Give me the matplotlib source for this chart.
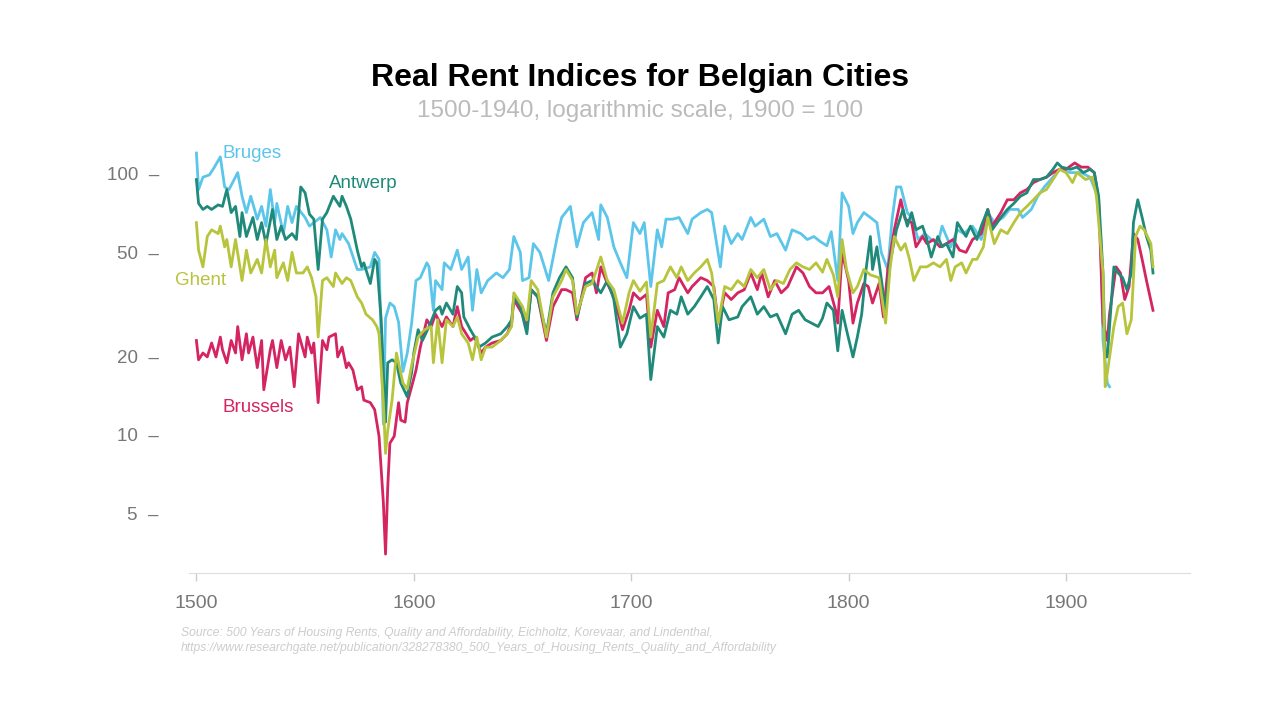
import matplotlib
matplotlib.use("Agg")
import matplotlib.pyplot as plt
from matplotlib.ticker import NullLocator, FixedLocator

plt.rcParams['font.family'] = ['Liberation Sans', 'DejaVu Sans']

# ---- data (index, 1900 = 100) ----
bruges_years = [1500, 1501, 1503, 1506, 1508, 1511, 1513, 1515, 1519, 1521, 1523, 1525, 1528, 1530,
                1532, 1534, 1536, 1537, 1540, 1542, 1544, 1546, 1550, 1552, 1557, 1560, 1562, 1564,
                1566, 1567, 1570, 1574, 1576, 1580, 1582, 1584, 1586, 1587, 1589, 1591, 1593, 1595,
                1597, 1599, 1601, 1603, 1606, 1607, 1609, 1610, 1613, 1614, 1617, 1620, 1622, 1625,
                1627, 1629, 1631, 1634, 1638, 1641, 1644, 1646, 1649, 1650, 1653, 1655, 1658, 1662,
                1666, 1668, 1672, 1675, 1678, 1682, 1685, 1686, 1689, 1692, 1695, 1698, 1701, 1704,
                1706, 1709, 1712, 1714, 1716, 1719, 1722, 1726, 1728, 1732, 1735, 1737, 1741, 1743,
                1746, 1749, 1751, 1755, 1757, 1761, 1764, 1767, 1771, 1774, 1778, 1781, 1784, 1787,
                1790, 1792, 1795, 1797, 1800, 1802, 1804, 1807, 1810, 1813, 1815, 1818, 1820, 1822,
                1824, 1827, 1829, 1832, 1835, 1838, 1841, 1843, 1847, 1850, 1853, 1857, 1861, 1864,
                1867, 1871, 1874, 1878, 1880, 1884, 1887, 1890, 1894, 1897, 1902, 1907, 1911, 1914,
                1916, 1917, 1919, 1920]
bruges = [120, 87, 97, 99, 105, 116, 89, 87, 101, 82, 71, 82, 67, 75,
          63, 87, 65, 77, 59, 75, 65, 75, 68, 63, 68, 61, 48, 61,
          56, 59, 54, 43, 43, 44, 50, 47, 11, 28, 32, 31, 27, 17.5,
          20.6, 26.8, 39, 40, 45.6, 44, 30, 39, 36, 45.6, 43, 51, 43, 48,
          30, 43, 35, 39, 41.7, 40, 43, 57.5, 50, 39, 40, 54, 50, 39,
          57.5, 68, 75, 52.5, 65, 71, 56, 76, 68, 52.5, 45.6, 40, 65, 59,
          65, 37, 61, 52.5, 67, 67, 68, 59, 67, 71, 73, 71, 44, 63,
          54, 59, 56, 68, 63, 67, 57.5, 59, 51, 61, 59, 56, 57.5, 55,
          53, 60, 39, 84.5, 75, 59, 65, 71, 68, 65, 50, 43, 67, 89,
          89, 71, 68, 56, 59, 56, 54, 63, 52.5, 61, 59, 63, 56, 71,
          65, 68, 73, 73, 68, 73, 82, 89, 97, 104, 101, 101, 97, 84.5,
          56, 23, 15.8, 15.3]

antwerp_years = [1500, 1501, 1503, 1505, 1507, 1510, 1512, 1514, 1516, 1518, 1520, 1521, 1523, 1526,
                 1528, 1530, 1532, 1535, 1537, 1539, 1541, 1544, 1546, 1548, 1550, 1552, 1554, 1556,
                 1558, 1560, 1563, 1566, 1567, 1569, 1571, 1574, 1576, 1577, 1580, 1582, 1583, 1585,
                 1587, 1588, 1590, 1592, 1594, 1597, 1598, 1599, 1600, 1602, 1604, 1607, 1610, 1612,
                 1613, 1615, 1618, 1620, 1622, 1623, 1626, 1628, 1630, 1633, 1636, 1640, 1643, 1645,
                 1646, 1649, 1652, 1654, 1657, 1661, 1664, 1667, 1670, 1673, 1675, 1679, 1682, 1686,
                 1689, 1692, 1695, 1698, 1701, 1704, 1707, 1709, 1712, 1715, 1718, 1721, 1723, 1726,
                 1729, 1732, 1735, 1738, 1740, 1742, 1745, 1749, 1751, 1755, 1758, 1761, 1764, 1767,
                 1771, 1774, 1777, 1780, 1783, 1786, 1788, 1790, 1793, 1795, 1797, 1799, 1802, 1804,
                 1806, 1808, 1810, 1811, 1813, 1814, 1817, 1819, 1822, 1825, 1827, 1829, 1831, 1834,
                 1836, 1838, 1841, 1843, 1845, 1848, 1850, 1854, 1856, 1859, 1861, 1864, 1866, 1870,
                 1873, 1876, 1879, 1882, 1885, 1888, 1891, 1894, 1896, 1898, 1902, 1905, 1908, 1911,
                 1913, 1915, 1917, 1918, 1919, 1922, 1924, 1926, 1928, 1930, 1931, 1933, 1935, 1937,
                 1939, 1940]
antwerp = [95, 77, 73, 75, 73, 76, 75, 87, 71, 75, 57.5, 71, 57.5, 68,
           56, 65, 54, 73, 56, 63, 56, 59, 56, 89, 84.5, 70, 67, 43,
           67, 71, 82, 75, 82, 75, 67, 51, 44, 45.6, 38, 47, 45.6, 27.6,
           11.2, 18.9, 19.4, 18.9, 15.8, 14, 15.8, 17.3, 20.6, 25.3, 23, 26, 30, 31,
           29, 32, 29, 37, 35, 28.3, 25.3, 23.7, 21.7, 22.5, 23.7, 24.4, 26, 27.6,
           33.8, 31, 24.4, 36, 33.8, 24.4, 35, 40, 44, 40, 28.3, 38, 39, 35,
           39, 33, 21.7, 24.4, 31, 28, 29, 16.3, 26, 23.7, 30, 29, 33.8, 29,
           31, 33.8, 37, 33, 22.5, 31, 27.6, 28.3, 31, 33.8, 29, 31, 28.3, 29,
           24.4, 29, 30, 27.6, 26.8, 26, 28, 32, 30, 21, 30, 25.3, 19.9, 23.7,
           29, 43, 57.5, 43, 52.5, 45.6, 30, 45.6, 61, 73, 63, 71, 61, 63,
           56, 48, 57.5, 52.5, 54, 48, 65, 57.5, 63, 56, 63, 73, 61, 68,
           73, 77, 82, 84.5, 95, 95, 97, 104, 110, 106, 104, 106, 101, 104,
           101, 82, 41.7, 19.9, 19.9, 44, 41.7, 40, 36, 41.7, 65, 79.5, 68, 57.5,
           51, 41.7]

ghent_years = [1500, 1501, 1503, 1505, 1507, 1510, 1511, 1513, 1514, 1516, 1518, 1520, 1521, 1523,
               1525, 1528, 1530, 1532, 1534, 1536, 1537, 1540, 1542, 1544, 1546, 1549, 1551, 1553,
               1555, 1556, 1558, 1560, 1563, 1564, 1567, 1569, 1571, 1574, 1576, 1578, 1581, 1583,
               1584, 1586, 1587, 1588, 1590, 1592, 1593, 1595, 1597, 1599, 1602, 1605, 1608, 1609,
               1611, 1613, 1615, 1618, 1620, 1622, 1625, 1627, 1629, 1631, 1633, 1636, 1640, 1643,
               1645, 1646, 1650, 1652, 1654, 1657, 1661, 1664, 1668, 1670, 1673, 1675, 1679, 1682,
               1686, 1689, 1692, 1696, 1699, 1701, 1704, 1707, 1709, 1712, 1715, 1718, 1721, 1723,
               1726, 1729, 1732, 1735, 1737, 1740, 1743, 1746, 1749, 1752, 1755, 1758, 1761, 1764,
               1767, 1770, 1773, 1776, 1779, 1782, 1785, 1788, 1790, 1793, 1795, 1797, 1799, 1802,
               1804, 1807, 1810, 1814, 1817, 1819, 1821, 1824, 1826, 1828, 1830, 1833, 1836, 1839,
               1842, 1845, 1847, 1849, 1852, 1854, 1857, 1859, 1862, 1864, 1867, 1870, 1873, 1876,
               1879, 1882, 1885, 1888, 1891, 1894, 1897, 1900, 1903, 1905, 1909, 1912, 1914, 1917,
               1918, 1919, 1922, 1924, 1926, 1928, 1930, 1932, 1934, 1936, 1939, 1940]
ghent = [65, 51, 44, 57.5, 61, 59, 63, 52.5, 56, 44, 56, 44, 39, 51,
         41.7, 47, 41.7, 56, 44, 51, 40, 45.6, 39, 50, 41.7, 41.7, 44, 40,
         33.8, 23.7, 39, 40, 37, 41.7, 38, 40, 39, 33.8, 32, 29, 27.6, 26,
         24.4, 13.3, 8.5, 10.4, 13.6, 20.6, 18.9, 15.8, 15, 18.5, 23.7, 25.3, 26, 18.9,
         27.6, 18.9, 27.6, 26, 28.3, 24.4, 22.5, 19.4, 23.7, 19.4, 21.7, 21.7, 23, 24.4,
         26, 35, 31, 27.6, 39, 36, 23.7, 33.8, 39, 43, 39, 29, 37, 38,
         48, 39, 36, 26.8, 35, 39, 35.5, 38.5, 23.7, 38, 39, 44, 40, 44,
         39, 41.7, 44, 47, 41.7, 26.8, 37, 36, 39, 37, 43, 40, 43, 36,
         39, 38, 43, 45.6, 44, 43, 45.6, 42, 47, 41, 33.8, 56, 43, 35,
         37, 43, 41, 40, 26.8, 43, 57.5, 51, 54, 47, 39, 44, 44, 45.6,
         44, 47, 39, 44, 45.6, 41.7, 47, 47, 52.5, 68, 54, 61, 59, 65,
         71, 75, 79.5, 84.5, 87, 95, 104, 101, 92.5, 101, 95, 97, 82, 41.7,
         15.3, 17.3, 26, 31, 32, 24.4, 27.6, 57.5, 63, 61, 54, 44]

brussels_years = [1500, 1501, 1503, 1505, 1507, 1509, 1511, 1512, 1514, 1516, 1518, 1519, 1521, 1523,
                  1524, 1526, 1528, 1530, 1531, 1534, 1535, 1537, 1539, 1541, 1543, 1545, 1547, 1550,
                  1551, 1553, 1554, 1556, 1558, 1560, 1561, 1564, 1565, 1567, 1569, 1570, 1572, 1574,
                  1576, 1577, 1580, 1582, 1584, 1586, 1587, 1588, 1589, 1591, 1593, 1594, 1596, 1597,
                  1599, 1601, 1603, 1606, 1608, 1610, 1613, 1615, 1618, 1620, 1622, 1626, 1628, 1631,
                  1633, 1636, 1640, 1643, 1645, 1646, 1650, 1652, 1654, 1657, 1661, 1664, 1668, 1670,
                  1673, 1675, 1679, 1682, 1684, 1686, 1689, 1692, 1696, 1699, 1701, 1704, 1707, 1709,
                  1712, 1715, 1717, 1720, 1722, 1726, 1728, 1732, 1735, 1738, 1740, 1743, 1746, 1749,
                  1752, 1755, 1758, 1760, 1763, 1766, 1769, 1772, 1776, 1779, 1782, 1785, 1788, 1791,
                  1794, 1795, 1797, 1800, 1802, 1804, 1807, 1809, 1811, 1814, 1816, 1818, 1821, 1824,
                  1826, 1829, 1831, 1834, 1836, 1839, 1842, 1845, 1848, 1851, 1854, 1857, 1861, 1864,
                  1866, 1870, 1873, 1876, 1879, 1882, 1885, 1888, 1891, 1894, 1897, 1900, 1904, 1907,
                  1910, 1913, 1915, 1917, 1919, 1920, 1923, 1925, 1927, 1929, 1931, 1933, 1935, 1937,
                  1940]
brussels = [23, 19.4, 20.6, 19.9, 22.5, 19.9, 23.7, 21.2, 18.9, 23, 20.6, 26, 19.4, 24.4,
            20.6, 23.7, 18.1, 23, 14.9, 21.2, 23, 18.1, 23, 19.4, 21.7, 15.3, 24.4, 19.9,
            23.7, 20.6, 22.5, 13.3, 23, 21.2, 23.7, 24.4, 19.9, 21.7, 18.1, 18.9, 17.7, 14.9,
            15.3, 13.6, 13.3, 12.5, 9.9, 5.5, 3.5, 6.3, 9.3, 9.9, 13.3, 11.4, 11.2, 13.3,
            15.3, 17.7, 21.7, 27.6, 26, 29, 26, 28.3, 26, 31, 26, 23, 23.7, 20.6,
            21.7, 22.5, 23, 24.4, 26.8, 33, 29, 25.3, 36, 33.8, 23, 31, 36, 36,
            35, 27.6, 40, 41.7, 35, 44, 38, 33.8, 25.3, 30, 35, 33, 34.5, 21.7,
            30, 26, 35, 36, 40, 35, 37, 40, 39, 37, 26.8, 35, 33, 35,
            36, 41.7, 36, 41.7, 33.8, 39, 35, 37, 44, 41.7, 37, 35, 35, 37,
            30, 26.8, 50, 39, 26.8, 32, 38, 37, 32, 38, 28.3, 43, 61, 79.5,
            67, 65, 52.5, 57.5, 54, 56, 52.5, 54, 56, 51, 50, 56, 59, 73,
            63, 71, 79.5, 79.5, 84.5, 87, 92.5, 95, 97, 101, 104, 104, 110, 106,
            106, 101, 79.5, 26.8, 23, 29, 44, 41.7, 33, 37, 59, 56, 47, 39,
            30]

series = [
    ("Bruges", bruges_years, bruges, "#5cc6ea"),
    ("Brussels", brussels_years, brussels, "#d42462"),
    ("Antwerp", antwerp_years, antwerp, "#1f8a79"),
    ("Ghent", ghent_years, ghent, "#b7c43c"),
]

# inline label anchors (year, value)
labels = {
    "Bruges": (1512, 119),
    "Antwerp": (1561, 91.5),
    "Ghent": (1490, 38.9),
    "Brussels": (1512, 12.7),
}

fig = plt.figure(figsize=(12.8, 7.2), dpi=100)
ax = fig.add_axes([0.148, 0.204, 0.782, 0.602])

for name, yrs, vals, col in series:
    ax.plot(yrs, vals, color=col, lw=2.0, solid_joinstyle='round')
    lx, ly = labels[name]
    ax.text(lx, ly, name, color=col, fontsize=13.5, va='center', ha='left')

ax.set_yscale('log')
ax.set_xlim(1496.8, 1957.2)
ax.set_ylim(2.96, 135)

ax.yaxis.set_major_locator(FixedLocator([5, 10, 20, 50, 100]))
ax.yaxis.set_minor_locator(NullLocator())
ax.set_yticklabels(["5  \u2013", "10  \u2013", "20  \u2013", "50  \u2013", "100  \u2013"])
ax.tick_params(axis='y', length=0, pad=22, labelsize=13.5, labelcolor='#777777')

ax.set_xticks([1500, 1600, 1700, 1800, 1900])
ax.tick_params(axis='x', length=6, width=1, color='#cccccc', labelsize=14,
               labelcolor='#777777', pad=10)

for s in ['top', 'right', 'left']:
    ax.spines[s].set_visible(False)
ax.spines['bottom'].set_color('#dddddd')

fig.text(0.5, 0.892, "Real Rent Indices for Belgian Cities", ha='center', va='center',
         fontsize=23, fontweight='bold', color='black')
fig.text(0.5, 0.846, "1500-1940, logarithmic scale, 1900 = 100", ha='center', va='center',
         fontsize=17.5, color='#bbbbbb')

fig.text(0.1414, 0.121, "Source: 500 Years of Housing Rents, Quality and Affordability, Eichholtz, Korevaar, and Lindenthal,",
         fontsize=8.7, style='italic', color='#cccccc', va='center')
fig.text(0.1414, 0.100, "https://www.researchgate.net/publication/328278380_500_Years_of_Housing_Rents_Quality_and_Affordability",
         fontsize=8.7, style='italic', color='#cccccc', va='center')

fig.savefig("out.png", dpi=100)
